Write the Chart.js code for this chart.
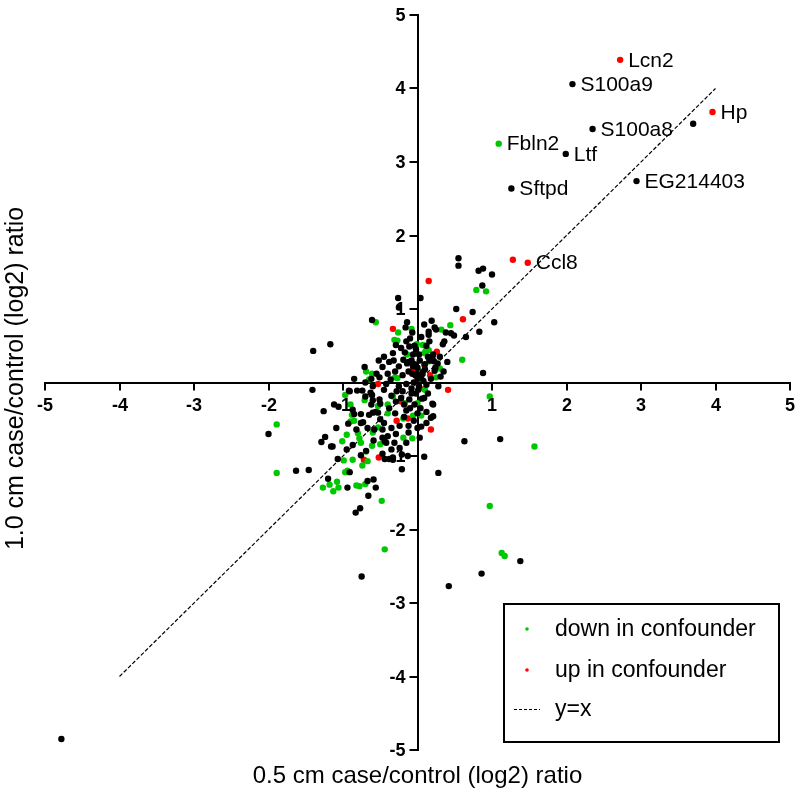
<!DOCTYPE html>
<html>
<head>
<meta charset="utf-8">
<script src="https://cdn.jsdelivr.net/npm/chart.js@4.4.1/dist/chart.umd.min.js"></script>
<style>
html,body{margin:0;padding:0;background:#fff;}
#wrap{width:800px;height:798px;position:relative;}
</style>
</head>
<body>
<div id="wrap"><canvas id="c" width="800" height="798"></canvas></div>
<script>
// ---------- DATA ----------
const axisMin = -5;
const axisMax = 5;
const xTitle = "0.5 cm case/control (log2) ratio";
const yTitle = "1.0 cm case/control (log2) ratio";

const otherPoints = [
  [2.08,4.06],[3.70,3.52],[2.35,3.45],[1.99,3.11],[2.94,2.74],[1.26,2.64],[-4.78,-4.85],
  [0.55,1.69],[0.55,1.59],[0.82,1.52],[0.88,1.55],[1.00,1.47],[0.87,1.32],[0.04,1.15],[0.52,1.00],
  [0.74,0.96],[1.03,0.82],[0.19,0.84],[0.09,0.79],[0.15,0.69],[0.15,0.65],[0.25,0.72],[0.38,0.68],
  [0.45,0.67],[0.49,0.64],[0.83,0.69],[0.65,0.62],[0.36,0.56],[0.34,0.52],[0.21,0.38],[0.14,0.35],
  [0.24,0.20],[0.27,0.26],[0.31,0.08],[0.88,0.13],[0.23,0.75],[0.16,0.56],[-0.04,0.50],[0.20,0.34],
  [0.22,0.29],[0.23,0.16],[0.16,0.30],
  [0.20,-0.29],[0.18,-0.48],[0.21,-0.46],[0.03,-0.75],[0.63,-0.80],[1.11,-0.77],[-0.15,-0.82],
  [0.09,-1.01],[-0.21,-1.18],[0.28,-1.23],[1.38,-2.43],[0.86,-2.60],[0.42,-2.77],[-0.75,-2.64],
  [0.09,-0.21],[0.21,-0.30],
  [-0.26,1.15],[-0.25,1.02],[-0.61,0.85],[-0.29,0.51],[-1.40,0.43],[-1.17,0.52],[-0.71,0.21],
  [-0.47,0.21],[-0.51,0.07],[-0.62,0.05],[-0.36,0.04],[-0.42,-0.02],[-1.41,-0.10],[-0.92,-0.11],
  [-0.81,-0.11],[-0.16,0.75],[-0.14,0.82],[-0.07,0.68],[-0.15,0.56],[-0.22,0.47],[-0.11,0.49],
  [-0.17,0.41],[-0.06,0.38],[-0.19,0.31],[-0.14,0.26],[-0.12,0.28],[-0.07,0.12],
  [-0.74,-0.11],[-0.63,-0.14],[-0.60,-0.24],[-0.50,-0.29],[-1.06,-0.33],[-1.26,-0.39],[-0.85,-0.43],
  [-0.76,-0.43],[-0.65,-0.44],[-0.60,-0.41],[-0.53,-0.41],[-2.00,-0.70],[-1.29,-0.81],[-1.24,-0.74],
  [-1.16,-0.87],[-0.93,-0.56],[-0.73,-0.54],[-0.67,-0.62],[-0.82,-0.64],[-0.58,-0.64],[-0.59,-0.79],
  [-0.47,-0.75],[-0.44,-0.80],[-0.87,-0.85],[-0.95,-0.91],[-0.76,-0.99],[-0.47,-0.97],[-0.44,-1.04],
  [-0.38,-1.04],[-0.33,-1.05],[-1.07,-1.04],[-0.91,-1.22],[-1.63,-1.20],[-1.46,-1.19],[-1.20,-1.31],
  [-0.94,-1.43],[-0.67,-1.34],[-0.59,-1.32],[-0.56,-1.43],[-0.66,-1.54],[-0.77,-1.71],[-0.83,-1.77],
  [-0.91,-0.12],[-1.12,-0.30],[-0.70,-0.19],[-0.61,-0.17],[-0.51,-0.23],[-0.29,-0.26],[-0.22,-0.21],
  [-0.11,-0.23],[-0.87,-0.37],[-0.56,-0.40],[-0.30,-0.42],[-0.18,-0.47],[-1.09,-0.62],[-0.76,-0.55],
  [-0.47,-0.64],[-0.24,-0.59],[-0.35,-0.62],[-0.12,-0.59],[-0.29,-0.70],[-0.40,-0.73],[-0.42,-0.82],
  [-0.31,-0.82],[-0.24,-0.89],[-0.35,-0.91],[-1.14,-0.87],[-0.69,-0.93],[-0.21,-0.98],[-0.13,-1.00],
  [-0.33,-1.02],
  [0.00,0.05],[0.02,-0.05],[-0.03,0.10],[0.05,0.08],[-0.02,-0.15],[0.08,0.02],[-0.08,-0.08],
  [0.12,-0.03],[-0.15,-0.02],[0.00,0.20],[-0.04,-0.30],[0.06,-0.22],[-0.12,0.15],[0.10,0.18],
  [-0.20,0.10],[0.03,0.30],[-0.10,-0.35],[0.14,-0.15],[-0.05,0.00],[0.01,-0.10],[-0.01,0.12],
  [0.04,-0.35],[-0.06,0.22],[0.07,0.14],[-0.25,-0.05],[-0.30,0.15],[-0.28,-0.12],[0.00,-0.42],
  [-0.45,0.35],[-0.38,0.28],[-0.33,0.40],[-0.52,0.30],[-0.40,0.12],[-0.25,0.22],[-0.45,-0.10],
  [-0.35,-0.18],[-0.20,-0.12],[-0.15,-0.38],[-0.05,-0.52],[0.05,-0.60],[0.12,-0.40],[0.30,0.35],
  [0.35,0.15],[0.40,0.28],[0.12,0.50],[0.05,0.62],[-0.10,0.60],[-0.32,0.30],[-0.60,-0.05],
  [-0.55,0.12],[-0.70,0.00],[-0.85,0.05],[-0.12,-0.68],[-0.50,-0.50],[-0.62,-0.30],[0.10,0.25],
  [0.18,0.05],[-0.08,0.30],[-0.02,0.45],[0.28,-0.05],[-0.18,-0.30],[-0.38,-0.35],[-0.45,-0.55],
  [0.12,-0.55],[0.00,-0.62],[-0.08,-0.15],[-0.04,0.25],[0.02,0.38]
];

const downPoints = [
  [1.09,3.25],[0.79,1.26],[0.92,1.24],[0.44,0.78],[0.32,0.72],[-0.08,0.73],[0.11,0.43],[0.15,0.44],
  [0.60,0.31],[0.30,0.19],[0.03,0.15],[0.25,0.07],[0.04,0.05],[0.97,-0.19],[0.10,-0.10],[0.05,-0.45],
  [-0.06,-0.45],[-0.19,-0.49],[1.57,-0.87],[-0.07,-0.76],[-0.19,-0.75],[0.97,-1.68],[1.17,-2.36],
  [1.13,-2.32],[-0.44,-2.27],[-0.48,-1.61],[-0.56,0.82],[-0.26,0.68],[-0.31,0.58],[-0.27,0.57],
  [-0.69,0.15],[-0.61,0.12],[-0.65,0.04],[-0.30,0.07],[-0.27,0.06],[-0.01,0.52],[-0.14,0.38],
  [0.07,0.51],[-0.02,0.40],[0.09,0.40],[0.16,0.29],[-0.97,-0.17],[-0.71,-0.24],[-0.53,-0.32],
  [-0.90,-0.30],[-0.88,-0.44],[-1.89,-0.57],[-1.01,-0.80],[-0.90,-0.53],[-0.85,-0.52],[-0.95,-0.71],
  [-0.80,-0.69],[-0.60,-0.68],[-0.78,-0.76],[-0.61,-0.86],[-0.50,-0.84],[-0.69,-0.94],[-0.99,-1.06],
  [-0.87,-1.05],[-0.67,-1.07],[-0.74,-1.13],[-0.94,-1.20],[-0.97,-1.22],[-1.89,-1.23],[-1.27,-1.43],
  [-1.18,-1.39],[-1.13,-1.48],[-1.08,-1.35],[-1.06,-1.43],[-0.82,-1.40],[-0.78,-1.41],[-0.70,-1.38],
  [-0.33,-0.19],[-0.17,-0.28],[-0.40,-0.30],[-0.40,-0.42],[-0.53,-0.61],[-0.76,-0.82],[0.00,-0.28]
];

const upPoints = [
  [2.72,4.39],[3.96,3.68],[1.28,1.67],[1.48,1.63],[0.15,1.38],[0.61,0.86],[0.26,0.42],[-0.06,0.18],
  [0.17,0.10],[0.41,-0.10],[0.18,-0.64],[-0.33,0.73],[-0.53,-0.02],[-0.72,-1.05],[-0.52,-1.02],
  [0.09,0.24],[-0.22,-0.26],[-0.28,-0.52],[-0.13,-0.49],[0.09,-0.09]
];

const identityX = [-4, 4];
const identityY = [-4, 4];

const tickValues = [-5, -4, -3, -2, -1, 1, 2, 3, 4, 5];

const geneNames = ["Lcn2","S100a9","Hp","S100a8","Fbln2","Ltf","EG214403","Sftpd","Ccl8"];
const geneX = [2.72, 2.08, 3.96, 2.35, 1.09, 1.99, 2.94, 1.26, 1.48];
const geneY = [4.39, 4.06, 3.68, 3.45, 3.25, 3.11, 2.74, 2.64, 1.63];

// ---------- CHART ----------
const FONT = "'Liberation Sans', Arial, sans-serif";
const GREEN = "rgb(0,200,0)";
const RED = "rgb(255,0,0)";

const toXY = arr => arr.map(p => ({x: p[0], y: p[1]}));

const axesPlugin = {
  id: 'crossAxes',
  afterDraw(chart) {
    const ctx = chart.ctx;
    const xs = chart.scales.x, ys = chart.scales.y;
    const x0 = xs.getPixelForValue(0), y0 = ys.getPixelForValue(0);
    ctx.save();
    ctx.strokeStyle = '#000';
    ctx.fillStyle = '#000';
    ctx.lineWidth = 2;
    ctx.font = "bold 18px " + FONT;
    ctx.textAlign = 'center';
    ctx.textBaseline = 'middle';
    tickValues.forEach(v => {
      const px = Math.round(xs.getPixelForValue(v));
      ctx.beginPath();
      ctx.moveTo(px, y0);
      ctx.lineTo(px, y0 + 8);
      ctx.stroke();
      ctx.fillText(String(v), px, y0 + 24);
    });
    ctx.textAlign = 'right';
    tickValues.forEach(v => {
      const py = Math.round(ys.getPixelForValue(v));
      ctx.beginPath();
      ctx.moveTo(x0, py);
      ctx.lineTo(x0 - 8, py);
      ctx.stroke();
      ctx.fillText(String(v), x0 - 12, py + 1);
    });
    ctx.restore();
  }
};

const annotatePlugin = {
  id: 'annotate',
  afterDatasetsDraw(chart) {
    const ctx = chart.ctx;
    const xs = chart.scales.x, ys = chart.scales.y;
    ctx.save();
    ctx.fillStyle = '#000';
    ctx.font = "21px " + FONT;
    ctx.textAlign = 'left';
    ctx.textBaseline = 'middle';
    geneNames.forEach((n, i) => {
      ctx.fillText(n, xs.getPixelForValue(geneX[i]) + 8, ys.getPixelForValue(geneY[i]) + 1);
    });
    ctx.restore();
  },
  afterDraw(chart) {
    const ctx = chart.ctx;
    const ca = chart.chartArea;
    ctx.save();
    ctx.fillStyle = '#000';
    ctx.textAlign = 'center';
    ctx.textBaseline = 'middle';
    ctx.font = "24px " + FONT;
    ctx.fillText(xTitle, (ca.left + ca.right) / 2, ca.bottom + 26);
    ctx.save();
    ctx.font = "25px " + FONT;
    ctx.translate(16, (ca.top + ca.bottom) / 2 - 4);
    ctx.rotate(-Math.PI / 2);
    ctx.fillText(yTitle, 0, 0);
    ctx.restore();

    // legend box
    const bw = 275, bh = 138;
    const bx = ca.right - 11 - bw, by = ca.bottom - 8 - bh;
    ctx.fillStyle = '#fff';
    ctx.fillRect(bx, by, bw, bh);
    ctx.strokeStyle = '#000';
    ctx.lineWidth = 2;
    ctx.strokeRect(bx, by, bw, bh);
    const items = chart.data.datasets.filter(d => d.label);
    const rowY = [25, 66, 105];
    ctx.font = "23px " + FONT;
    ctx.textAlign = 'left';
    ctx.textBaseline = 'middle';
    items.forEach((d, i) => {
      const cy = by + rowY[i];
      if (d.type === 'line') {
        ctx.save();
        ctx.strokeStyle = d.borderColor;
        ctx.lineWidth = 1;
        ctx.setLineDash([3, 2]);
        ctx.beginPath();
        ctx.moveTo(bx + 10, cy + 0.5);
        ctx.lineTo(bx + 36, cy + 0.5);
        ctx.stroke();
        ctx.restore();
      } else {
        ctx.fillStyle = d.backgroundColor;
        ctx.beginPath();
        ctx.arc(bx + 23, cy, 1.8, 0, Math.PI * 2);
        ctx.fill();
      }
      ctx.fillStyle = '#000';
      ctx.fillText(d.label, bx + 51, cy + 1);
    });
    ctx.restore();
  }
};

const R = 3.2;
new Chart(document.getElementById('c'), {
  type: 'scatter',
  data: {
    datasets: [
      {
        data: toXY(otherPoints),
        backgroundColor: '#000', borderColor: '#000',
        pointRadius: R, pointBorderWidth: 0, pointHoverRadius: R
      },
      {
        label: 'down in confounder',
        data: toXY(downPoints),
        backgroundColor: GREEN, borderColor: GREEN,
        pointRadius: R, pointBorderWidth: 0, pointHoverRadius: R
      },
      {
        label: 'up in confounder',
        data: toXY(upPoints),
        backgroundColor: RED, borderColor: RED,
        pointRadius: R, pointBorderWidth: 0, pointHoverRadius: R
      },
      {
        type: 'line',
        label: 'y=x',
        data: identityX.map((v, i) => ({x: v, y: identityY[i]})),
        borderColor: '#000', backgroundColor: '#000',
        borderWidth: 1.2, borderDash: [4, 2],
        pointRadius: 0, fill: false, showLine: true
      }
    ]
  },
  options: {
    responsive: false,
    animation: false,
    devicePixelRatio: 1,
    layout: { padding: { left: 45, right: 10, top: 15, bottom: 48 } },
    plugins: { legend: { display: false }, tooltip: { enabled: false } },
    scales: {
      x: {
        type: 'linear', min: axisMin, max: axisMax,
        position: { y: 0 },
        grid: { display: false },
        border: { display: true, color: '#000', width: 2 },
        ticks: { display: false, stepSize: 1 }
      },
      y: {
        type: 'linear', min: axisMin, max: axisMax,
        position: { x: 0 },
        grid: { display: false },
        border: { display: true, color: '#000', width: 2 },
        ticks: { display: false, stepSize: 1 }
      }
    }
  },
  plugins: [axesPlugin, annotatePlugin]
});
</script>
</body>
</html>
